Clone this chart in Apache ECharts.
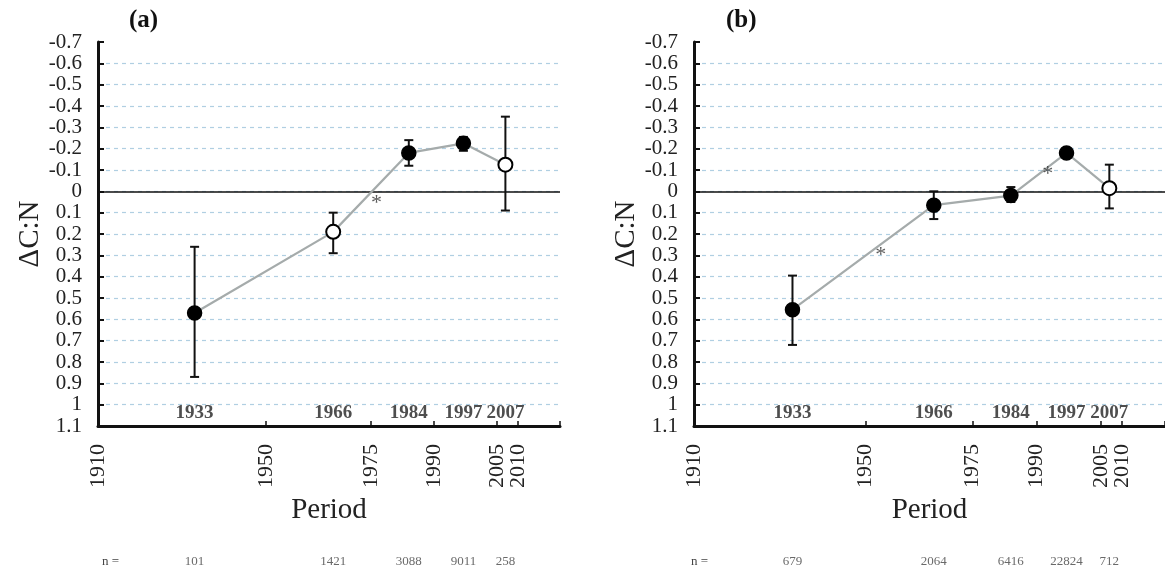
<!DOCTYPE html>
<html>
<head>
<meta charset="utf-8">
<script src="https://cdn.jsdelivr.net/npm/echarts@6/dist/echarts.min.js"></script>
<style>
html,body{margin:0;padding:0;background:#fff;}
#chart{width:1165px;height:572px;}
</style>
</head>
<body>
<div id="chart"></div>
<script>
// ---- data ----
const periodYears = [1933, 1966, 1984, 1997, 2007];
const periodLabels = ['1933', '1966', '1984', '1997', '2007'];
const xTickValuesMain = [1910, 1950, 1975, 1990, 2010];
const xTickValuesExtra = [2005];
const xTickMarks = [1950, 1975, 1990, 2005, 2010, 2020];

const meanA = [0.57, 0.19, -0.18, -0.225, -0.125];
const lowA  = [0.26, 0.10, -0.24, -0.255, -0.35];
const highA = [0.87, 0.29, -0.12, -0.19, 0.09];
const filledA = [true, false, true, true, false];
const nA = ['101', '1421', '3088', '9011', '258'];
const starsA = [[1976.3, 0.055]];

const meanB = [0.555, 0.065, 0.02, -0.18, -0.015];
const lowB  = [0.395, 0.0, -0.02, -0.18, -0.125];
const highB = [0.72, 0.13, 0.05, -0.18, 0.08];
const filledB = [true, true, true, true, false];
const nB = ['679', '2064', '6416', '22824', '712'];
const starsB = [[1953.6, 0.30], [1992.6, -0.08]];

const SERIF = '"Liberation Serif", "DejaVu Serif", serif';

function fmtY(v) { return String(parseFloat(v.toFixed(1))); }

const xLabelStyle = { rotate: 90, margin: 18, fontFamily: SERIF, fontSize: 22, color: '#222', hideOverlap: false, formatter: v => String(v) };

function buildAxes(i) {
  const xAxis = {
    type: 'value', gridIndex: i, position: 'bottom', min: 1910, max: 2020,
    name: 'Period', nameLocation: 'middle', nameGap: 68,
    nameTextStyle: { fontFamily: SERIF, fontSize: 29, color: '#222' },
    axisLine: { show: true, onZero: false, lineStyle: { color: '#111', width: 3 } },
    axisTick: { show: true, inside: true, length: 5, customValues: xTickMarks, lineStyle: { color: '#111', width: 1.5 } },
    axisLabel: Object.assign({ show: true, customValues: xTickValuesMain, showMinLabel: true, showMaxLabel: true }, xLabelStyle),
    splitLine: { show: false }
  };
  const xAxisExtra = {
    type: 'value', gridIndex: i, position: 'bottom', offset: 0, min: 1910, max: 2020,
    axisLine: { show: false, onZero: false },
    axisTick: { show: false },
    axisLabel: Object.assign({ show: true, customValues: xTickValuesExtra }, xLabelStyle),
    splitLine: { show: false }
  };
  const yAxis = {
    type: 'value', gridIndex: i, inverse: true, min: -0.7, max: 1.1, interval: 0.1,
    name: 'ΔC:N', nameLocation: 'middle', nameGap: 50, nameRotate: 90,
    nameTextStyle: { fontFamily: SERIF, fontSize: 29, color: '#222' },
    axisLine: { show: true, onZero: false, lineStyle: { color: '#111', width: 3 } },
    axisTick: { show: true, inside: true, length: 6, lineStyle: { color: '#111', width: 2 } },
    axisLabel: { show: true, hideOverlap: false, margin: 16, fontFamily: SERIF, fontSize: 21, color: '#222', formatter: fmtY },
    splitLine: { show: true, showMinLine: false, showMaxLine: false, lineStyle: { color: '#b0cfe2', width: 1.2, type: [4, 4] } }
  };
  return { xAxis, xAxisExtra, yAxis };
}

function panelSeries(i, mean, low, high, filled, nLabels, stars) {
  const errData = periodYears.map((y, k) => [y, low[k], high[k]]);
  const pts = periodYears.map((y, k) => ({
    value: [y, mean[k]],
    itemStyle: filled[k] ? { color: '#000', borderColor: '#000', borderWidth: 1.5 } : { color: '#fff', borderColor: '#000', borderWidth: 2 }
  }));
  return [
    {
      type: 'custom', xAxisIndex: i, yAxisIndex: i, z: 3,
      data: errData,
      renderItem: function (params, api) {
        const x = api.value(0);
        const p1 = api.coord([x, api.value(1)]);
        const p2 = api.coord([x, api.value(2)]);
        const hw = 4.5;
        const st = { stroke: '#111', lineWidth: 2 };
        return {
          type: 'group',
          children: [
            { type: 'line', shape: { x1: p1[0], y1: p1[1], x2: p2[0], y2: p2[1] }, style: st },
            { type: 'line', shape: { x1: p1[0] - hw, y1: p1[1], x2: p1[0] + hw, y2: p1[1] }, style: st },
            { type: 'line', shape: { x1: p2[0] - hw, y1: p2[1], x2: p2[0] + hw, y2: p2[1] }, style: st }
          ]
        };
      }
    },
    {
      type: 'line', xAxisIndex: i, yAxisIndex: i, z: 5,
      data: pts, symbol: 'circle', symbolSize: 14, showAllSymbol: true,
      lineStyle: { color: '#a5abab', width: 2.2 },
      markLine: {
        silent: true, symbol: 'none', label: { show: false },
        lineStyle: { color: '#111', width: 1.6, type: 'solid' },
        data: [{ yAxis: 0 }]
      },
      animation: false
    },
    {
      type: 'scatter', xAxisIndex: i, yAxisIndex: i, z: 6,
      data: periodYears.map((y, k) => ({ value: [y, 1.1], name: periodLabels[k] })),
      symbolSize: 0,
      label: { show: true, position: 'top', distance: 3, formatter: p => p.name, fontFamily: SERIF, fontWeight: 'bold', fontSize: 19, color: '#222' }
    },
    {
      type: 'scatter', xAxisIndex: i, yAxisIndex: i, z: 6,
      data: periodYears.map((y, k) => ({ value: [y, 1.1], name: nLabels[k] })),
      symbolSize: 0,
      label: { show: true, position: 'inside', offset: [0, 136], formatter: p => p.name, fontFamily: SERIF, fontSize: 13, color: '#444' }
    },
    {
      type: 'scatter', xAxisIndex: i, yAxisIndex: i, z: 6,
      data: stars.map(s => ({ value: s, name: '*' })),
      symbolSize: 0,
      label: { show: true, position: 'inside', formatter: '*', fontFamily: SERIF, fontSize: 22, color: '#333' }
    }
  ];
}

const axA = buildAxes(0);
const axB = buildAxes(1);

const chart = echarts.init(document.getElementById('chart'), null, { renderer: 'canvas' });
chart.setOption({
  animation: false,
  backgroundColor: '#fff',
  grid: [
    { left: 98, top: 42, width: 462, height: 384 },
    { left: 694, top: 42, width: 476, height: 384 }
  ],
  xAxis: [axA.xAxis, axB.xAxis, axA.xAxisExtra, axB.xAxisExtra],
  yAxis: [axA.yAxis, axB.yAxis],
  graphic: [
    { type: 'text', left: 129, top: 8, style: { text: '(a)', font: 'bold 25px ' + SERIF, fill: '#111' } },
    { type: 'text', left: 726, top: 8, style: { text: '(b)', font: 'bold 25px ' + SERIF, fill: '#111' } },
    { type: 'text', left: 102, top: 555, style: { text: 'n =', font: '13px ' + SERIF, fill: '#444' } },
    { type: 'text', left: 691, top: 555, style: { text: 'n =', font: '13px ' + SERIF, fill: '#444' } }
  ],
  series: [].concat(
    panelSeries(0, meanA, lowA, highA, filledA, nA, starsA),
    panelSeries(1, meanB, lowB, highB, filledB, nB, starsB)
  )
});
</script>
</body>
</html>
